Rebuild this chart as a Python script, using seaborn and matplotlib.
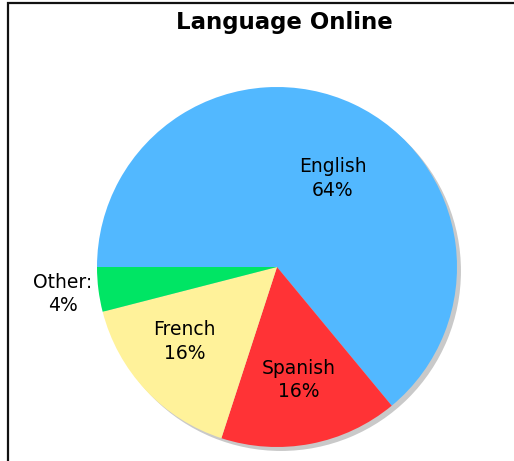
import numpy as np
import matplotlib
matplotlib.use("Agg")
import matplotlib.pyplot as plt
import matplotlib.patches as patches
import seaborn as sns

languages = ["English", "Spanish", "French", "Other:"]
shares = [64, 16, 16, 4]
colors = ["#52b8ff", "#ff3336", "#fff29a", "#00e564"]

sns.set_theme(style="white")
plt.rcParams['font.family'] = ['DejaVu Sans']

W, H = 514, 461
fig = plt.figure(figsize=(W / 100, H / 100), dpi=100)
fig.patch.set_facecolor('white')

# pie centre (277, 267) px, radius 180 px
cx, cy, R = 277, 267, 180
lim = 1.12
half = lim * R
ax = fig.add_axes([(cx - half) / W, (H - cy - half) / H, 2 * half / W, 2 * half / H])
ax.set_facecolor('white')

# flat grey shadow behind the pie
ax.pie([sum(shares)], colors=["#c9c9c9"], radius=1, center=(0.022, -0.022),
       startangle=180, wedgeprops=dict(linewidth=0))

labels = [f"{l}\n{v}%" for l, v in zip(languages, shares)]
wedges, texts = ax.pie(shares, colors=colors, labels=labels, startangle=180,
                       counterclock=False, labeldistance=0.62, radius=1,
                       wedgeprops=dict(linewidth=0),
                       textprops=dict(fontsize=13.5, color='black', ha='center',
                                      va='center', multialignment='center',
                                      linespacing=1.3))

# label placement: distance from centre and angular nudge per slice
label_dist = [0.58, 0.64, 0.66, 1.2]
label_nudge = [-7, 0, -4.5, 0]
for w, t, d, n in zip(wedges, texts, label_dist, label_nudge):
    mid = np.deg2rad((w.theta1 + w.theta2) / 2 + n)
    t.set_position((d * np.cos(mid), d * np.sin(mid)))
    t.set_ha('center')
    t.set_va('center')

ax.set_xlim(-lim, lim)
ax.set_ylim(-lim, lim)
ax.set_aspect('equal')
ax.axis('off')

fig.text(284 / W, 1 - 22 / H, "Language Online", ha='center', va='center',
         fontsize=16.5, fontweight='bold', color='black')

frame = patches.Rectangle((8 / W, -0.2), 1.2, 1 - 2.5 / H + 0.2, fill=False,
                          lw=1.6, edgecolor='#111111', transform=fig.transFigure)
fig.add_artist(frame)

fig.savefig("out.png", dpi=100, facecolor='white')
